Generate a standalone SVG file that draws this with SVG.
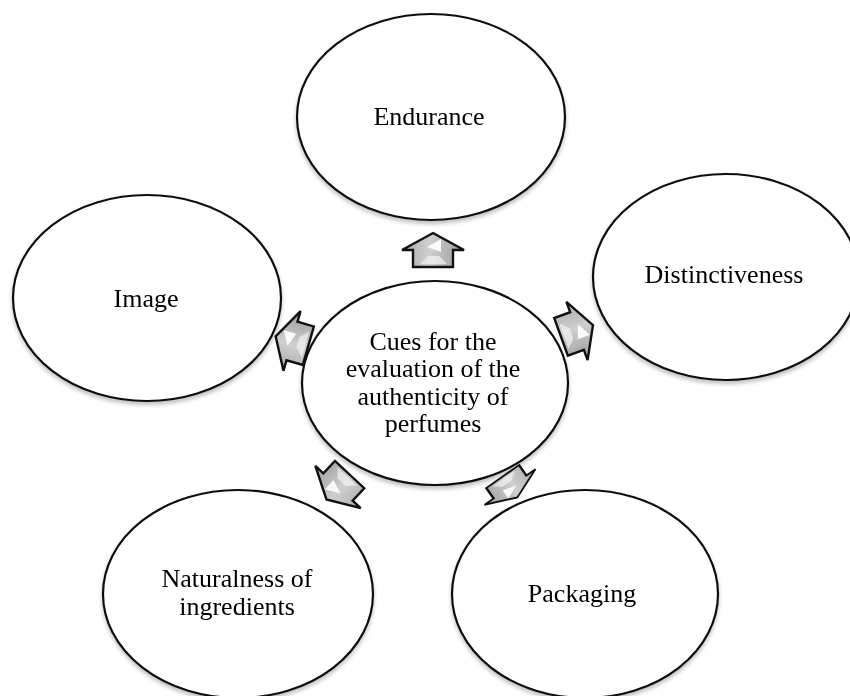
<svg xmlns="http://www.w3.org/2000/svg" width="850" height="696" viewBox="0 0 850 696">
<defs>
<linearGradient id="ag" x1="0" y1="0" x2="1" y2="0">
<stop offset="0" stop-color="#aaaaaa"/>
<stop offset="0.45" stop-color="#cfcfcf"/>
<stop offset="1" stop-color="#999999"/>
</linearGradient>
<filter id="sh" x="-10%" y="-10%" width="120%" height="125%">
<feGaussianBlur in="SourceAlpha" stdDeviation="2"/>
<feOffset dx="0" dy="3" result="b"/>
<feComponentTransfer><feFuncA type="linear" slope="0.25"/></feComponentTransfer>
<feMerge><feMergeNode/><feMergeNode in="SourceGraphic"/></feMerge>
</filter>
<g id="arrow">
<path d="M0,-17 L31,0 L20,0 L20,17 L-20,17 L-20,0 L-31,0 Z" fill="url(#ag)" stroke="#111" stroke-width="2.4" stroke-linejoin="miter"/>
<path d="M-6,-3 L8,-11 L8,2 Z" fill="#fff" opacity="0.9"/>
<path d="M-13,14 L-5,6 L6,6 L14,14 Z" fill="#fff" opacity="0.55"/>
</g>
</defs>
<style>
.node ellipse{fill:#fff;stroke:#111;stroke-width:2.2}
.node text{font-family:"Liberation Serif","Times New Roman",serif;font-size:26px;fill:#000;text-anchor:middle}
</style>
<g id="n-endurance" class="node" filter="url(#sh)">
<ellipse cx="431" cy="117" rx="134" ry="103"/>
<text x="429" y="125">Endurance</text>
</g>
<g id="n-image" class="node" filter="url(#sh)">
<ellipse cx="147" cy="298" rx="134" ry="103"/>
<text x="146" y="307">Image</text>
</g>
<g id="n-distinct" class="node" filter="url(#sh)">
<ellipse cx="726" cy="277" rx="133" ry="103"/>
<text x="724" y="283">Distinctiveness</text>
</g>
<g id="n-center" class="node" filter="url(#sh)">
<ellipse cx="435" cy="383" rx="133" ry="102"/>
<text x="433" y="350">Cues for the</text>
<text x="433" y="377">evaluation of the</text>
<text x="433" y="405">authenticity of</text>
<text x="433" y="432">perfumes</text>
</g>
<g id="n-natural" class="node" filter="url(#sh)">
<ellipse cx="238" cy="594" rx="135" ry="104"/>
<text x="237" y="587">Naturalness of</text>
<text x="237" y="615">ingredients</text>
</g>
<g id="n-packaging" class="node" filter="url(#sh)">
<ellipse cx="585" cy="594" rx="133" ry="104"/>
<text x="582" y="602">Packaging</text>
</g>
<g id="connectors">
<use href="#arrow" transform="translate(433,250)"/>
<use href="#arrow" transform="translate(577,331) rotate(70)"/>
<use href="#arrow" transform="translate(292,341) rotate(-74)"/>
<use href="#arrow" transform="translate(338,487) rotate(223)"/>
<use href="#arrow" transform="translate(510,487) rotate(145) scale(1,0.75)"/>
</g>
</svg>
